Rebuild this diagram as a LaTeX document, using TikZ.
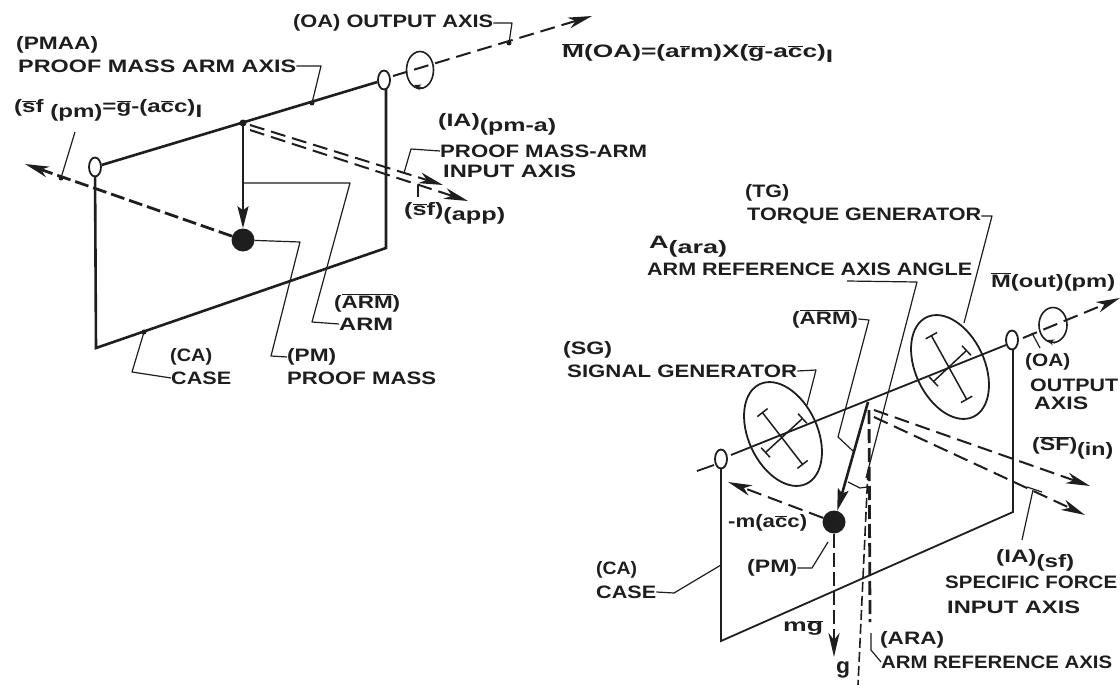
\documentclass[tikz,border=0pt]{standalone}
\usepackage{graphicx}
\usepackage{fontspec}
\setmainfont{Liberation Sans}
\usetikzlibrary{arrows.meta,shapes.geometric}
\definecolor{ink}{HTML}{1E1E1E}
\newcommand{\fw}[2]{\resizebox{#1pt}{\height}{#2}}
\newcommand{\ob}[1]{\ensuremath{\overline{\hbox{#1}}}}
\newcommand{\dn}[1]{\raisebox{-5pt}{#1}}
\tikzset{
  lab/.style={anchor=west,inner sep=0pt,text=ink,font=\bfseries\fontsize{18}{18}\selectfont},
  wire/.style={draw=ink,line width=1.8pt},
  thick wire/.style={draw=ink,line width=2.6pt},
  lead/.style={draw=ink,line width=1.2pt,line join=round},
  dash one/.style={draw=ink,line width=2pt,dash pattern=on 15pt off 7pt},
  dash heavy/.style={draw=ink,line width=2.8pt,dash pattern=on 14pt off 5pt},
  dash thin/.style={draw=ink,line width=1.6pt,dash pattern=on 10pt off 4pt},
  tip/.style={-{Stealth[length=24pt,width=11pt,inset=7pt]}},
  small tip/.style={-{Stealth[length=7pt,width=6pt]}},
  pivot/.style={draw=ink,line width=1.8pt,ellipse,minimum width=12pt,minimum height=19pt,inner sep=0pt,fill=white},
  gen/.style={draw=ink,line width=1.8pt,ellipse,minimum width=69pt,minimum height=110pt,inner sep=0pt,rotate=25},
  spin/.style={draw=ink,line width=1.6pt,ellipse,inner sep=0pt},
  mass/.style={circle,fill=ink,inner sep=0pt,minimum size=23pt},
  tbar/.style={draw=ink,line width=1.5pt,{Bar[width=13pt,length=1pt]}-{Bar[width=13pt,length=1pt]}},
}
\begin{document}
\begin{tikzpicture}[x=1pt,y=-1pt]
\useasboundingbox (0,0) rectangle (1120,685);
\fill[white] (0,0) rectangle (1120,685);

% ---------- left gyro
\coordinate (lP) at (243,123);
\coordinate (lCaseTL) at (95,168);
\coordinate (lCaseBL) at (96,348);
\coordinate (lCaseBR) at (386,248);
\coordinate (lCaseTR) at (386,80);
\coordinate (lOAtip) at (592,16);
\coordinate (lSFtip) at (25,164);
\coordinate (lIAtip) at (443,185);
\coordinate (lAPPtip) at (468,201);
\node[mass] (lM) at (243,240) {};
\draw[thick wire] (lCaseTR) -- (lCaseBR) -- (lCaseBL) -- (lCaseTL);
\draw[dash one,tip] (393,76) -- (lOAtip);
\draw[dash heavy,tip] (lM) -- (lSFtip);
\draw[dash one,tip] (250,125) -- (lIAtip);
\draw[dash one,tip] (250,130) -- (lAPPtip);
\node[pivot] (lE1) at (95,167) {};
\node[pivot] (lE2) at (384,80) {};
\draw[thick wire] (lE1) -- (lE2);
\draw[thick wire,-{Stealth[length=22pt,width=11pt,inset=4pt]}] (lP) -- (lM);
\fill[ink] (lP) circle (3.5pt);
\node[spin,minimum width=27pt,minimum height=37pt] (lSpin) at (420,70) {};
\draw[ink,line width=1.2pt,small tip] (422,88) -- (414,85);

\node[lab] (t1) at (16,45) {\fw{82}{(PMAA)}};
\node[lab] (t2) at (18,66) {\fw{278}{PROOF  MASS ARM AXIS}};
\node[lab] (t3) at (293,23) {\fw{200}{(OA) OUTPUT AXIS}};
\node[lab] (t4) at (14,110) {\fw{188}{(\ob{s}f \dn{(pm)}=\ob{g}-(a\ob{c}c)\dn{I}}};
\node[lab] (t5) at (438,124) {\fw{118}{(IA)\dn{(pm-a)}}};
\node[lab] (t6) at (440,151) {\fw{207}{PROOF MASS-ARM}};
\node[lab] (t7) at (443,171) {\fw{133}{INPUT AXIS}};
\node[lab] (t8) at (404,213) {\fw{101}{(\ob{s}f)\dn{(app)}}};
\node[lab] (t9) at (334,303) {\fw{66}{(\ob{ARM})}};
\node[lab] (t10) at (339,324) {\fw{54}{ARM}};
\node[lab] (t11) at (170,357) {\fw{42}{(CA)}};
\node[lab] (t12) at (171,378) {\fw{60}{CASE}};
\node[lab] (t13) at (287,357) {\fw{49}{(PM)}};
\node[lab] (t14) at (287,378) {\fw{149}{PROOF  MASS}};
\node[lab] (t15) at (562,53) {\fw{271}{\ob{M}(OA)=(a\ob{r}m)X(\ob{g}-a\ob{c}c)\dn{I}}};

\draw[lead] (t2.east) -- (321,66) -- (312,103);
\draw[lead] (t3.east) -- (512,23) -- (509,43);
\fill[ink] (509,43) circle (2.5pt) (312,103) circle (2.5pt) (61,178) circle (2.5pt) (144,332) circle (2.5pt);
\draw[lead] (75,132) -- (61,178);
\draw[lead] (t6.west) -- (411,149) -- (404,173);
\draw[lead] (418,185) -- (418,197);
\draw[lead] (243,183) -- (350,183) -- (312,322) -- (t10.west);
\draw[lead] (lM) -- (300,242) -- (271,356) -- (t13.west);
\draw[lead] (144,332) -- (132,372) -- (t12.west);

% ---------- right gyro
\coordinate (rP) at (868,402);
\coordinate (rCaseTL) at (721,459);
\coordinate (rCaseBL) at (721,641);
\coordinate (rCaseBR) at (1013,512);
\coordinate (rCaseTR) at (1013,341);
\coordinate (rOAtip) at (1120,298);
\coordinate (rSF1) at (1090,486);
\coordinate (rSF2) at (1085,515);
\coordinate (rAcc) at (728,482);
\coordinate (rG) at (834,657);
\node[mass] (rM) at (834,522) {};
\draw[wire] (rCaseTR) -- (rCaseBR) -- (rCaseBL) -- (rCaseTL);
\node[gen] (sgen) at (783,434) {};
\node[gen] (tgen) at (950,367) {};
\draw[wire] (731,455) -- (1006,345);
\draw[wire] (697,471) -- (714,465);
\node[pivot] (rE1) at (721,459) {};
\node[pivot] (rE2) at (1012,340) {};
\draw[tbar] (762,412) -- (803,465);
\draw[tbar] (765,453) -- (803,418);
\draw[tbar] (931,335) -- (967,400);
\draw[tbar] (933,382) -- (967,350);
\draw[dash one,tip] (1023,338) -- (rOAtip);
\draw[dash one,tip] (874,410) -- (rSF1);
\draw[dash one,tip] (874,417) -- (rSF2);
\draw[dash one,tip] (rM) -- (rAcc);
\draw[dash heavy,tip] (rM) -- (rG);
\draw[dash heavy] (869,410) -- (870,622);
\draw[dash thin] (868,470) -- (858,685);
\draw[thick wire,-{Stealth[length=22pt,width=11pt,inset=4pt]}] (rP) -- (rM);
\node[spin,minimum width=28pt,minimum height=35pt] (rSpin) at (1053,325) {};
\draw[ink,line width=1.2pt,small tip] (1055,343) -- (1047,340);

\node[lab] (r1) at (745,193) {\fw{44}{(TG)}};
\node[lab] (r2) at (747,216) {\fw{234}{TORQUE GENERATOR}};
\node[lab] (r3) at (649,247) {\fw{78}{A\dn{(ara)}}};
\node[lab] (r4) at (647,269) {\fw{325}{ARM REFERENCE AXIS ANGLE}};
\node[lab] (r5) at (991,282) {\fw{124}{\ob{M}(out)(pm)}};
\node[lab] (r6) at (792,319) {\fw{66}{(\ob{ARM})}};
\node[lab] (r7) at (563,350) {\fw{49}{(SG)}};
\node[lab] (r8) at (567,371) {\fw{230}{SIGNAL GENERATOR}};
\node[lab] (r9) at (1025,362) {\fw{45}{(OA)}};
\node[lab] (r10) at (1030,385) {\fw{88}{OUTPUT}};
\node[lab] (r11) at (1034,403) {\fw{54}{AXIS}};
\node[lab] (r12) at (1032,448) {\fw{81}{(\ob{SF})\dn{(in)}}};
\node[lab] (r13) at (728,523) {\fw{79}{-m(a\ob{c}c)}};
\node[lab] (r14) at (747,568) {\fw{50}{(PM)}};
\node[lab] (r15) at (596,570) {\fw{41}{(CA)}};
\node[lab] (r16) at (596,592) {\fw{60}{CASE}};
\node[lab] (r17) at (996,560) {\fw{78}{(IA)\dn{(sf)}}};
\node[lab] (r18) at (945,582) {\fw{172}{SPECIFIC FORCE}};
\node[lab] (r19) at (947,607) {\fw{133}{INPUT AXIS}};
\node[lab] (r20) at (783,628) {\fw{40}{m\ob{g}}};
\node[lab,font=\bfseries\fontsize{22}{22}\selectfont] (r21) at (836,670) {\fw{14}{g}};
\node[lab] (r22) at (880,640) {\fw{64}{(ARA)}};
\node[lab] (r23) at (881,662) {\fw{231}{ARM REFERENCE AXIS}};

\draw[lead] (r2.east) -- (992,216) -- (964,323);
\draw[lead] (847,281) -- (917,282) -- (866,478);
\draw[lead] (848,482) -- (860,488) -- (867,487);
\draw[lead] (r6.east) -- (869,320) -- (838,437) -- (853,451);
\draw[lead] (r8.east) -- (816,370) -- (807,405);
\draw[lead] (r14.east) -- (812,568) -- (828,542);
\draw[lead] (r16.east) -- (674,593) -- (721,565);
\draw[lead] (1022,540) -- (1033,490);
\draw[lead] (1027,487) -- (1042,492);
\draw[lead] (1032,333) -- (1040,348);
\draw[lead] (871,633) -- (871,650) -- (r23.west);
\end{tikzpicture}
\end{document}
